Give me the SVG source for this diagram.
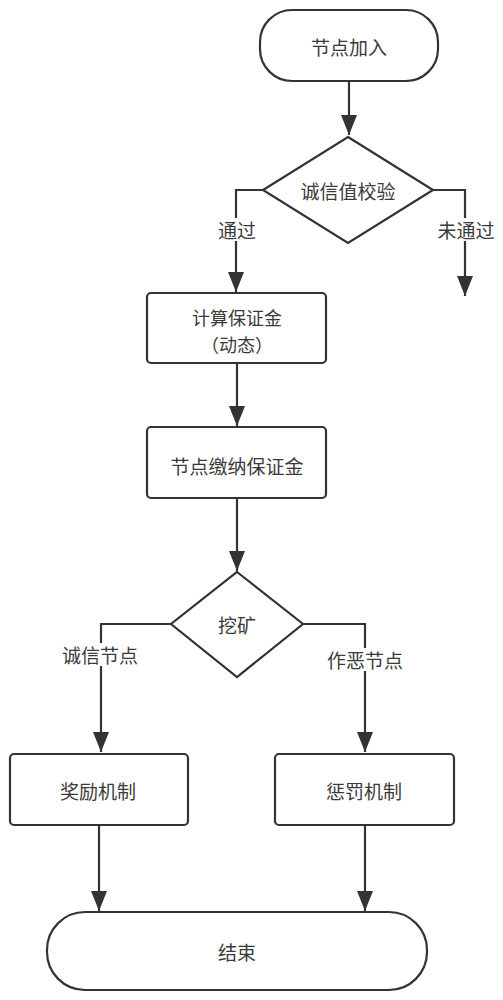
<svg xmlns="http://www.w3.org/2000/svg" width="503" height="1000" viewBox="0 0 503 1000">
<style>
.box{fill:#fff;stroke:#333;stroke-width:2.2}
.ln{fill:none;stroke:#333;stroke-width:2.2}
.t{font-family:"Noto Sans CJK SC","Noto Sans",sans-serif;font-size:19px;fill:#3a3a3a;text-anchor:middle;dominant-baseline:central}
.bg{fill:#fff;stroke:none}
</style>
<defs>
<marker id="arr" viewBox="0 0 20 16" markerWidth="20" markerHeight="16" refX="20" refY="8" orient="auto" markerUnits="userSpaceOnUse">
<path d="M0,0 L20,8 L0,16 z" fill="#333"/>
</marker>
</defs>
<rect width="503" height="1000" fill="#fff"/>
<g id="connectors">
<path class="ln" d="M349,81 V135" marker-end="url(#arr)"/>
<path class="ln" d="M263,190 H236 V292" marker-end="url(#arr)"/>
<path class="ln" d="M433,190 H465 V296" marker-end="url(#arr)"/>
<path class="ln" d="M237,363 V426" marker-end="url(#arr)"/>
<path class="ln" d="M237,498 V571" marker-end="url(#arr)"/>
<path class="ln" d="M171,624 H101 V752" marker-end="url(#arr)"/>
<path class="ln" d="M303,624 H365 V752" marker-end="url(#arr)"/>
<path class="ln" d="M99,825 V911" marker-end="url(#arr)"/>
<path class="ln" d="M365,825 V911" marker-end="url(#arr)"/>
<g id="label-pass"><rect class="bg" x="218" y="218" width="38" height="23"/><text class="t" x="237" y="229">通过</text></g>
<g id="label-fail"><rect class="bg" x="436" y="218" width="58" height="23"/><text class="t" x="466" y="229">未通过</text></g>
<g id="label-honest"><rect class="bg" x="61" y="643" width="80" height="23"/><text class="t" x="100" y="654">诚信节点</text></g>
<g id="label-evil"><rect class="bg" x="325" y="648" width="80" height="23"/><text class="t" x="365" y="659">作恶节点</text></g>
</g>
<g id="start"><rect class="box" x="260" y="10" width="178" height="71" rx="32"/><text class="t" x="349" y="46">节点加入</text></g>
<g id="check"><path class="box" d="M348,137 L433,190 L348,243 L263,190 z"/><text class="t" x="348" y="190">诚信值校验</text></g>
<g id="calc"><rect class="box" x="147" y="293" width="179" height="70" rx="4"/><text class="t" x="237" y="317" style="font-size:18px">计算保证金</text><text class="t" x="237" y="344" style="font-size:18px">（动态）</text></g>
<g id="pay"><rect class="box" x="147" y="427" width="179" height="71" rx="4"/><text class="t" x="237" y="465">节点缴纳保证金</text></g>
<g id="mine"><path class="box" d="M237,572 L303,624 L237,677 L171,624 z"/><text class="t" x="237" y="624">挖矿</text></g>
<g id="reward"><rect class="box" x="10" y="754" width="178" height="71" rx="4"/><text class="t" x="98" y="790">奖励机制</text></g>
<g id="punish"><rect class="box" x="275" y="754" width="179" height="71" rx="4"/><text class="t" x="364" y="790">惩罚机制</text></g>
<g id="end"><rect class="box" x="47" y="912" width="380" height="78" rx="38"/><text class="t" x="237" y="951">结束</text></g>
</svg>
